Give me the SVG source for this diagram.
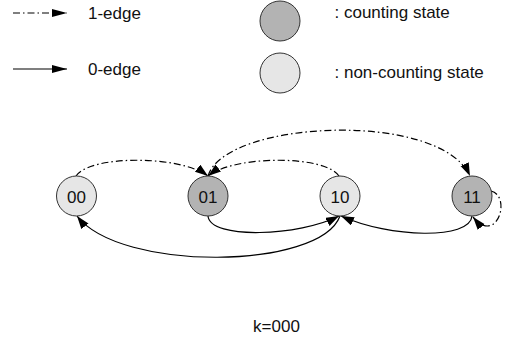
<svg xmlns="http://www.w3.org/2000/svg" width="506" height="343" viewBox="0 0 506 343">
<style>
text{font-family:"Liberation Sans",Arial,sans-serif;font-size:17px;fill:#111}
.n text{text-anchor:middle}
.cnt{fill:#b3b3b3;stroke:#333;stroke-width:1}
.non{fill:#e6e6e6;stroke:#333;stroke-width:1}
.e1{fill:none;stroke:#000;stroke-width:1.2;stroke-dasharray:7 3 1.5 3}
.e0{fill:none;stroke:#000;stroke-width:1.2}
</style>
<defs>
<marker id="ah" markerUnits="userSpaceOnUse" markerWidth="14" markerHeight="10" refX="13" refY="4.5" orient="auto">
<path d="M0,0 L13,4.5 L0,9 z" fill="#000"/>
</marker>
<marker id="al" markerUnits="userSpaceOnUse" markerWidth="16" markerHeight="10" refX="15" refY="4" orient="auto">
<path d="M0,0 L15,4 L0,8 z" fill="#000"/>
</marker>
</defs>
<g id="legend">
<line class="e1" x1="13" y1="13" x2="67" y2="13" marker-end="url(#al)"/>
<text x="88" y="18.5">1-edge</text>
<line class="e0" x1="13" y1="69" x2="67" y2="69" marker-end="url(#al)"/>
<text x="88" y="74.5">0-edge</text>
<circle class="cnt" cx="280" cy="21" r="20"/>
<text x="334.5" y="18">: counting state</text>
<circle class="non" cx="280" cy="73" r="20"/>
<text x="334.5" y="77.5">: non-counting state</text>
</g>
<g id="connectors">
<path class="e1" d="M76,176 C90,155 180,155 208,176" marker-end="url(#ah)"/>
<path class="e1" d="M339,176 C325,155 235,155 208,176" marker-end="url(#ah)"/>
<path class="e1" d="M208,176 C225,120 440,110 470,176" marker-end="url(#ah)"/>
<path class="e1" d="M491,191 C512,196 497,246 473,217" marker-end="url(#ah)"/>
<path class="e0" d="M208,216 C210,240 300,236 339,216" marker-end="url(#ah)"/>
<path class="e0" d="M472,216 C470,240 390,238 341,216" marker-end="url(#ah)"/>
<path class="e0" d="M340,216 C320,270 120,272 77,216" marker-end="url(#ah)"/>
</g>
<g id="n00" class="n"><circle class="non" cx="76.5" cy="196" r="20"/><text x="76.5" y="202.5">00</text></g>
<g id="n01" class="n"><circle class="cnt" cx="208" cy="196" r="20"/><text x="208" y="202.5">01</text></g>
<g id="n10" class="n"><circle class="non" cx="340" cy="196" r="20"/><text x="340" y="202.5">10</text></g>
<g id="n11" class="n"><circle class="cnt" cx="472" cy="196" r="20"/><text x="472" y="202.5">11</text></g>
<text x="276.5" y="332" text-anchor="middle">k=000</text>
</svg>
